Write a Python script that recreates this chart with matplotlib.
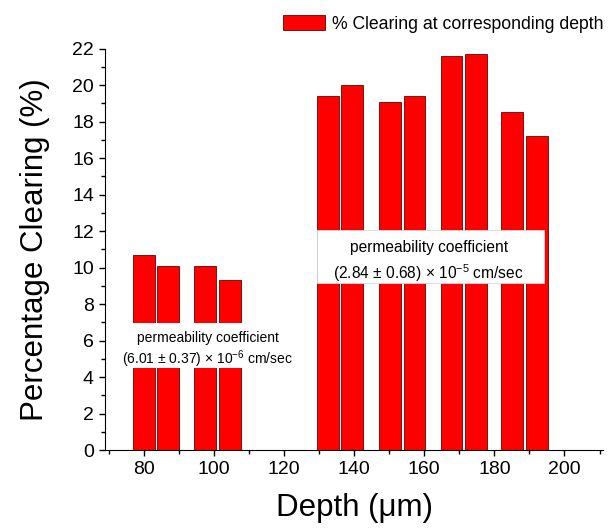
import numpy as np
import matplotlib
matplotlib.use('Agg')
import matplotlib.pyplot as plt
from matplotlib.patches import Rectangle
from matplotlib.ticker import MultipleLocator

plt.rcParams['font.family'] = ['Liberation Sans', 'DejaVu Sans']
plt.rcParams['mathtext.fontset'] = 'custom'
plt.rcParams['mathtext.rm'] = 'Liberation Sans'
plt.rcParams['mathtext.it'] = 'Liberation Sans:italic'

# Data
depth = [80.0, 87.0, 97.5, 104.6, 132.6, 139.5, 150.2, 157.2, 167.8, 174.7, 185.1, 192.2]
clearing = [10.7, 10.1, 10.1, 9.3, 19.4, 20.0, 19.1, 19.4, 21.6, 21.7, 18.5, 17.2]
legend_label = '% Clearing at corresponding depth'
note_low = ['permeability coefficient', r'(6.01 $\pm$ 0.37) $\times$ 10$^{-6}$ cm/sec']
note_high = ['permeability coefficient', r'(2.84 $\pm$ 0.68) $\times$ 10$^{-5}$ cm/sec']

fig = plt.figure(figsize=(6.11, 5.31), dpi=100)
ax = fig.add_axes([0.172, 0.1525, 0.815, 0.756])

bars = ax.bar(depth, clearing, width=6.2, color='#ff0000', edgecolor='#6a0000',
              linewidth=0.6, label=legend_label, zorder=2)

# white label boxes that cut through the bars
ax.add_patch(Rectangle((72.5, 4.5), 52, 2.45, facecolor='white', edgecolor='none', zorder=3))
ax.add_patch(Rectangle((129.4, 9.15), 64.8, 2.9, facecolor='white', edgecolor='#d8d8d8',
                       linewidth=0.6, zorder=3))
ax.text(98.3, 6.15, note_low[0], ha='center', va='center', fontsize=10, zorder=4)
ax.text(98.3, 5.0, note_low[1], ha='center', va='center', fontsize=10, zorder=4)
ax.text(161.3, 11.1, note_high[0], ha='center', va='center', fontsize=11.2, zorder=4)
ax.text(161.3, 9.7, note_high[1], ha='center', va='center', fontsize=11.2, zorder=4)

ax.set_xlim(69, 211)
ax.set_ylim(0, 22)
ax.xaxis.set_major_locator(MultipleLocator(20))
ax.xaxis.set_minor_locator(MultipleLocator(10))
ax.yaxis.set_major_locator(MultipleLocator(2))
ax.yaxis.set_minor_locator(MultipleLocator(1))
ax.set_xticks(np.arange(80, 201, 20))
ax.tick_params(which='major', direction='out', length=4.5, width=1, labelsize=14)
ax.tick_params(which='minor', direction='out', length=3, width=1)
for s in ['top', 'right']:
    ax.spines[s].set_visible(False)

ax.set_xlabel('Depth (\u03bcm)', fontsize=22.5, labelpad=11)
ax.set_ylabel('Percentage Clearing (%)', fontsize=22.5, labelpad=16)

ax.legend(handles=[bars], loc='lower right', bbox_to_anchor=(1.0, 1.04), frameon=False,
          fontsize=12.7, handlelength=2.35, handleheight=1.0, handletextpad=0.4,
          borderaxespad=0, borderpad=0)

fig.savefig('out.png', dpi=100)
